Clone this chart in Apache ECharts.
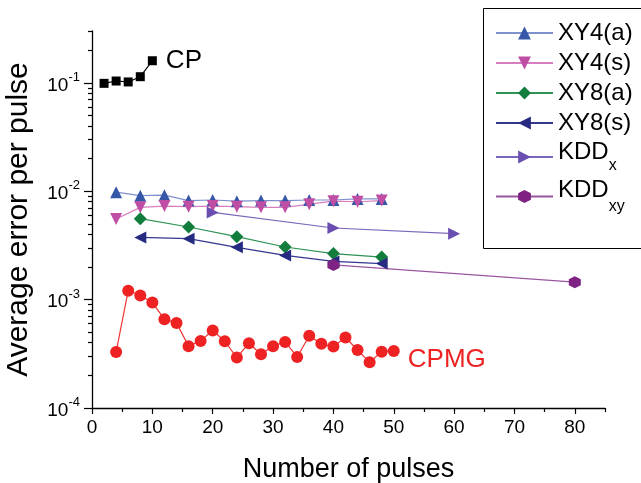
<!DOCTYPE html>
<html>
<head>
<meta charset="utf-8">
<script src="https://cdn.jsdelivr.net/npm/echarts@6/dist/echarts.min.js"></script>
<style>
  html, body { margin: 0; padding: 0; background: #fff; }
  #chart { width: 641px; height: 483px; }
</style>
</head>
<body>
<div id="chart"></div>
<script>
// data
const cpX = [2, 4, 6, 8, 10];
const cpY = [0.099, 0.104, 0.102, 0.114, 0.160];

const xy4X = [4, 8, 12, 16, 20, 24, 28, 32, 36, 40, 44, 48];
const xy4aY = [0.0098, 0.0091, 0.0092, 0.0082, 0.0083, 0.0081, 0.0082, 0.0082, 0.0083, 0.0083, 0.0085, 0.0085];
const xy4sY = [0.00555, 0.0071, 0.0073, 0.0072, 0.0073, 0.0072, 0.0071, 0.0071, 0.0076, 0.0081, 0.0080, 0.0082];

const xy8X = [8, 16, 24, 32, 40, 48];
const xy8aY = [0.00558, 0.00468, 0.00381, 0.00306, 0.00266, 0.00247];
const xy8sY = [0.00375, 0.00365, 0.00304, 0.00256, 0.00225, 0.00215];

const kddxX = [20, 40, 60];
const kddxY = [0.00638, 0.00458, 0.00406];
const kddxyX = [40, 80];
const kddxyY = [0.00209, 0.00145];

const cpmgX = [4, 6, 8, 10, 12, 14, 16, 18, 20, 22, 24, 26, 28, 30, 32, 34, 36, 38, 40, 42, 44, 46, 48, 50];
const cpmgY = [0.000329, 0.00121, 0.00109, 0.00094, 0.00066, 0.00061, 0.000372, 0.000416, 0.000519, 0.000413,
               0.000292, 0.000396, 0.000313, 0.000372, 0.000407, 0.000296, 0.000464, 0.000391, 0.000369, 0.000447,
               0.000343, 0.000264, 0.000331, 0.000336];

const xMajor = [0, 10, 20, 30, 40, 50, 60, 70, 80];
const xMinor = [5, 15, 25, 35, 45, 55, 65, 75, 85];
const yMajor = [1e-4, 1e-3, 1e-2, 1e-1];
const yMinor = [2e-4, 3e-4, 4e-4, 5e-4, 6e-4, 7e-4, 8e-4, 9e-4,
                2e-3, 3e-3, 4e-3, 5e-3, 6e-3, 7e-3, 8e-3, 9e-3,
                2e-2, 3e-2, 4e-2, 5e-2, 6e-2, 7e-2, 8e-2, 9e-2,
                0.2, 0.3];

const font = 'Liberation Sans, Arial, sans-serif';

function pts(xs, ys) {
    return xs.map(function (x, i) { return [x, ys[i]]; });
}

function mk(name, xs, ys, color, lineColor, symbol, size, rotate) {
    return {
        name: name,
        type: 'line',
        data: pts(xs, ys),
        symbol: symbol,
        symbolSize: size,
        symbolRotate: rotate || 0,
        showSymbol: true,
        itemStyle: { color: color },
        lineStyle: { color: lineColor, width: 1.2 },
        animation: false
    };
}

const hexagon = 'path://M0,-1 L0.866,-0.5 L0.866,0.5 L0,1 L-0.866,0.5 L-0.866,-0.5 Z';

const cpSeries = mk('CP', cpX, cpY, '#000', '#000', 'rect', 9);
cpSeries.data[cpSeries.data.length - 1] = {
    value: cpSeries.data[cpSeries.data.length - 1],
    label: { show: true, position: 'right', distance: 9, formatter: 'CP',
             color: '#000', fontSize: 26, fontFamily: font }
};

const cpmgSeries = mk('CPMG', cpmgX, cpmgY, '#ee2222', '#ee3333', 'circle', 12);
cpmgSeries.data[cpmgSeries.data.length - 1] = {
    value: cpmgSeries.data[cpmgSeries.data.length - 1],
    label: { show: true, position: 'right', distance: 8, offset: [0, 9], formatter: 'CPMG',
             color: '#ee2222', fontSize: 26, fontFamily: font }
};

const myChart = echarts.init(document.getElementById('chart'), null, { renderer: 'canvas' });
myChart.setOption({
    backgroundColor: '#fff',
    animation: false,
    grid: { left: 92, right: 36, top: 31, bottom: 75, outerBoundsMode: 'none', containLabel: false },
    // legend frame, running off the right edge like in the original
    graphic: [{
        type: 'rect', left: 483, top: 8, z: 0,
        shape: { width: 200, height: 240 },
        style: { fill: '#fff', stroke: '#000', lineWidth: 1 }
    }],
    xAxis: [{
        type: 'value', min: 0, max: 85,
        name: 'Number of pulses', nameLocation: 'middle', nameGap: 48,
        nameTextStyle: { fontSize: 27, color: '#000', fontFamily: font },
        axisLine: { lineStyle: { color: '#000', width: 1.3 } },
        axisTick: { length: 6, inside: false, lineStyle: { color: '#000', width: 1.2 }, customValues: xMajor },
        axisLabel: { color: '#000', fontSize: 19, fontFamily: font, margin: 10, customValues: xMajor },
        splitLine: { show: false }
    }, {
        type: 'value', min: 0, max: 85, position: 'bottom',
        axisLine: { show: false },
        axisTick: { length: 4, lineStyle: { color: '#000', width: 1.2 }, customValues: xMinor },
        axisLabel: { show: false },
        splitLine: { show: false }
    }],
    yAxis: [{
        type: 'log', min: 1e-4, max: 0.301, logBase: 10,
        name: 'Average error per pulse', nameLocation: 'middle', nameGap: 58,
        nameTextStyle: { fontSize: 30, color: '#000', fontFamily: font },
        axisLine: { show: true, lineStyle: { color: '#000', width: 1.3 } },
        axisTick: { length: 8, lineStyle: { color: '#000', width: 1.2 }, customValues: yMajor },
        axisLabel: {
            customValues: yMajor, margin: 12,
            formatter: function (v) {
                return '{b|10}{s|' + Math.round(Math.log10(v)) + '}';
            },
            rich: {
                b: { fontSize: 19, color: '#000', fontFamily: font, verticalAlign: 'bottom', lineHeight: 24 },
                s: { fontSize: 13, color: '#000', fontFamily: font, verticalAlign: 'top', lineHeight: 14 }
            }
        },
        splitLine: { show: false }
    }, {
        type: 'log', min: 1e-4, max: 0.301, logBase: 10, position: 'left',
        axisLine: { show: false },
        axisTick: { length: 4, lineStyle: { color: '#000', width: 1.2 }, customValues: yMinor },
        axisLabel: { show: false },
        splitLine: { show: false }
    }],
    legend: {
        orient: 'vertical',
        left: 483, top: 8, z: 5,
        data: ['XY4(a)', 'XY4(s)', 'XY8(a)', 'XY8(s)', 'KDDx', 'KDDxy'],
        borderWidth: 0,
        padding: [12, 4, 30, 12],
        itemWidth: 57, itemHeight: 16, itemGap: 4,
        symbolRotate: 'inherit',
        textStyle: {
            fontSize: 24, color: '#000', fontFamily: font, lineHeight: 26,
            rich: {
                m: { fontSize: 24, color: '#000', fontFamily: font, verticalAlign: 'top', lineHeight: 26 },
                sub: { fontSize: 16, color: '#000', fontFamily: font, verticalAlign: 'bottom', lineHeight: 34 },
                sub2: { fontSize: 16, color: '#000', fontFamily: font, verticalAlign: 'bottom', lineHeight: 37 }
            }
        },
        formatter: function (name) {
            if (name === 'KDDx') return '{m|KDD}{sub|x}';
            if (name === 'KDDxy') return '{m|KDD}{sub2|xy}';
            return name;
        }
    },
    series: [
        cpSeries,
        mk('XY4(a)', xy4X, xy4aY, '#3656a8', '#7f91cc', 'triangle', 12),
        mk('XY4(s)', xy4X, xy4sY, '#c04ea4', '#d77dc0', 'triangle', 12, 180),
        mk('XY8(a)', xy8X, xy8aY, '#127d3c', '#2e9355', 'diamond', 13),
        mk('XY8(s)', xy8X, xy8sY, '#262a80', '#33378e', 'triangle', 12, 90),
        mk('KDDx', kddxX, kddxY, '#6a4fb0', '#7b66bb', 'triangle', 12, -90),
        mk('KDDxy', kddxyX, kddxyY, '#7e2383', '#9b55a0', hexagon, 12),
        cpmgSeries
    ]
});
window.addEventListener('resize', function () { myChart.resize(); });
</script>
</body>
</html>
